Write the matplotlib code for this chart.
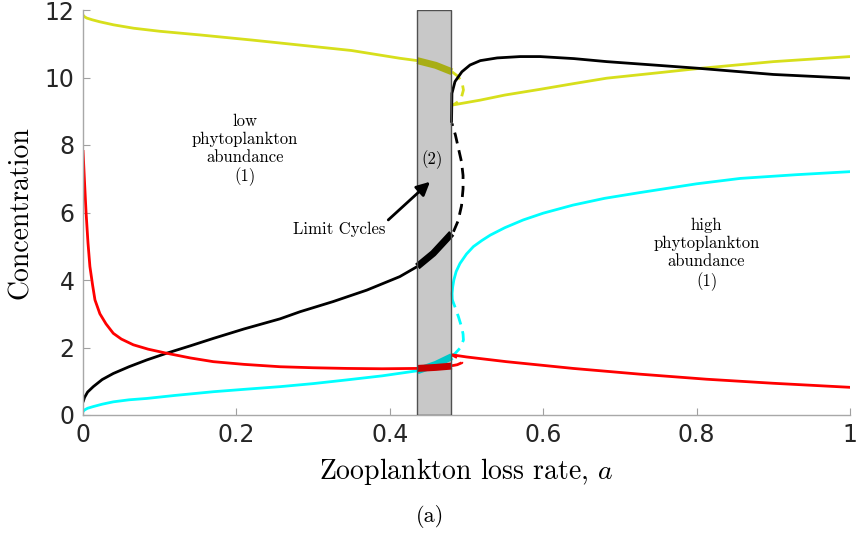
import matplotlib
matplotlib.use("Agg")
import matplotlib.pyplot as plt
from matplotlib.patches import Rectangle

plt.rcParams['mathtext.fontset'] = 'cm'

# ---- data (a = zooplankton loss rate, c = concentration) ----
yellow_low_a = [0, 0.002, 0.005, 0.012, 0.022, 0.04, 0.066, 0.1, 0.153, 0.22, 0.283, 0.35, 0.413, 0.4359]
yellow_low_c = [11.85, 11.8, 11.76, 11.71, 11.65, 11.56, 11.46, 11.37, 11.26, 11.11, 10.96, 10.8, 10.57, 10.5]
yellow_lc_a = [0.4359, 0.46, 0.481]
yellow_lc_c = [10.5, 10.36, 10.17]
yellow_un_a = [0.481, 0.488, 0.494, 0.496, 0.4935, 0.489, 0.483]
yellow_un_c = [10.17, 10.05, 9.88, 9.63, 9.42, 9.28, 9.19]
yellow_hi_a = [0.483, 0.518, 0.55, 0.596, 0.64, 0.683, 0.75, 0.804, 0.9, 1.0]
yellow_hi_c = [9.19, 9.33, 9.48, 9.65, 9.82, 9.98, 10.14, 10.27, 10.47, 10.62]

black_low_a = [0, 0.002, 0.006, 0.0134, 0.025, 0.0395, 0.06, 0.083, 0.109, 0.14, 0.17, 0.21,
               0.257, 0.283, 0.326, 0.37, 0.413, 0.4359]
black_low_c = [0.38, 0.52, 0.68, 0.84, 1.05, 1.23, 1.43, 1.63, 1.83, 2.05, 2.27, 2.55,
               2.85, 3.06, 3.36, 3.70, 4.10, 4.40]
black_lc_a = [0.4359, 0.4567, 0.4807]
black_lc_c = [4.40, 4.79, 5.38]
black_un_a = [0.483, 0.489, 0.4935, 0.4955, 0.4955, 0.4935, 0.4895, 0.4855, 0.481]
black_un_c = [5.43, 5.75, 6.2, 6.7, 7.1, 7.5, 7.9, 8.3, 8.64]
black_hi_a = [0.4805, 0.4807, 0.481, 0.485, 0.494, 0.5046, 0.518, 0.54, 0.57, 0.596, 0.64,
              0.683, 0.75, 0.804, 0.9, 1.0]
black_hi_c = [8.7, 9.0, 9.53, 9.88, 10.17, 10.37, 10.5, 10.58, 10.62, 10.62, 10.56,
              10.47, 10.36, 10.27, 10.09, 9.98]

cyan_low_a = [0, 0.002, 0.006, 0.0134, 0.025, 0.0395, 0.06, 0.083, 0.12, 0.17, 0.21, 0.257,
              0.3, 0.344, 0.39, 0.4359]
cyan_low_c = [0.1, 0.15, 0.2, 0.25, 0.32, 0.39, 0.45, 0.49, 0.58, 0.69, 0.76, 0.84,
              0.93, 1.04, 1.16, 1.31]
cyan_lc_a = [0.4359, 0.46, 0.481]
cyan_lc_c = [1.31, 1.5, 1.73]
cyan_un_a = [0.4807, 0.485, 0.4915, 0.496, 0.4955, 0.4937, 0.4895, 0.485, 0.4815]
cyan_un_c = [1.75, 1.82, 1.98, 2.22, 2.4, 2.6, 2.91, 3.2, 3.41]
cyan_hi_a = [0.4815, 0.4812, 0.482, 0.4835, 0.4865, 0.4915, 0.5, 0.509, 0.52, 0.531, 0.55,
             0.574, 0.6, 0.639, 0.68, 0.726, 0.8, 0.857, 0.93, 1.0]
cyan_hi_c = [3.41, 3.6, 3.8, 4.0, 4.25, 4.49, 4.77, 4.99, 5.17, 5.33, 5.55,
             5.78, 5.98, 6.22, 6.42, 6.59, 6.85, 7.01, 7.12, 7.21]

red_low_a = [0, 0.002, 0.004, 0.0065, 0.009, 0.0125, 0.0156, 0.022, 0.03, 0.0395, 0.05,
             0.0656, 0.085, 0.109, 0.14, 0.17, 0.21, 0.257, 0.3, 0.344, 0.39, 0.4359]
red_low_c = [7.85, 6.9, 6.0, 5.1, 4.4, 3.85, 3.41, 3.0, 2.7, 2.42, 2.25,
             2.08, 1.95, 1.83, 1.69, 1.58, 1.5, 1.43, 1.4, 1.38, 1.37, 1.38]
red_lc_a = [0.4359, 0.46, 0.481]
red_lc_c = [1.38, 1.41, 1.45]
red_un_a = [0.481, 0.488, 0.494, 0.493, 0.488, 0.482]
red_un_c = [1.46, 1.49, 1.55, 1.63, 1.7, 1.77]
red_hi_a = [0.482, 0.5, 0.552, 0.6, 0.639, 0.726, 0.813, 0.9, 1.0]
red_hi_c = [1.78, 1.72, 1.58, 1.47, 1.38, 1.21, 1.06, 0.94, 0.82]

box_a = [0.4359, 0.4802]
xticks = [0, 0.2, 0.4, 0.6, 0.8, 1]
xtick_labels = ['0', '0.2', '0.4', '0.6', '0.8', '1']
yticks = [0, 2, 4, 6, 8, 10, 12]
ytick_labels = ['0', '2', '4', '6', '8', '10', '12']

YEL = '#d7df1c'
CYA = '#00ffff'
RED = '#ff0000'
BLK = '#000000'

fig = plt.figure(figsize=(8.59, 5.38), dpi=100)
ax = fig.add_axes([83/859, 123/538, 767/859, 405/538])

lw = 2.0
tlw = 5.0
dash = (0, (4, 2.5))

for col, lo, lc, un, hi in [
    (YEL, (yellow_low_a, yellow_low_c), (yellow_lc_a, yellow_lc_c), (yellow_un_a, yellow_un_c), (yellow_hi_a, yellow_hi_c)),
    (CYA, (cyan_low_a, cyan_low_c), (cyan_lc_a, cyan_lc_c), (cyan_un_a, cyan_un_c), (cyan_hi_a, cyan_hi_c)),
    (BLK, (black_low_a, black_low_c), (black_lc_a, black_lc_c), (black_un_a, black_un_c), (black_hi_a, black_hi_c)),
    (RED, (red_low_a, red_low_c), (red_lc_a, red_lc_c), (red_un_a, red_un_c), (red_hi_a, red_hi_c)),
]:
    ax.plot(*lo, color=col, lw=lw, solid_capstyle='butt', solid_joinstyle='round')
    ax.plot(*lc, color=col, lw=tlw, solid_capstyle='butt', solid_joinstyle='round')
    ax.plot(*un, color=col, lw=lw, linestyle=dash)
    ax.plot(*hi, color=col, lw=lw, solid_joinstyle='round')

ax.add_patch(Rectangle((box_a[0], 0), box_a[1] - box_a[0], 12,
                       facecolor=(0, 0, 0, 0.216), edgecolor='#505050', lw=1.0, zorder=5))

serif = 'cmr10'
ax.text(0.211, 7.85, 'low\nphytoplankton\nabundance\n(1)', ha='center', va='center',
        fontsize=12, family=serif, linespacing=1.2)
ax.text(0.813, 4.76, 'high\nphytoplankton\nabundance\n(1)', ha='center', va='center',
        fontsize=12, family=serif, linespacing=1.2)
ax.text(0.4545, 7.56, '(2)', ha='center', va='center', fontsize=12, family=serif, zorder=6)
ax.text(0.334, 5.51, 'Limit Cycles', ha='center', va='center', fontsize=12, family=serif)
ax.annotate('', xy=(0.4524, 6.91), xytext=(0.398, 5.78),
            arrowprops=dict(arrowstyle='-|>', color='black', lw=2, mutation_scale=20,
                            shrinkA=0, shrinkB=0), zorder=7)

ax.set_xlim(0, 1)
ax.set_ylim(0, 12)
ax.set_xticks(xticks)
ax.set_xticklabels(xtick_labels)
ax.set_yticks(yticks)
ax.set_yticklabels(ytick_labels)
ax.tick_params(direction='in', length=5, width=0.8, color='#a0a0a0',
               labelsize=17, labelcolor='#262626', pad=6)
for s in ['top', 'right']:
    ax.spines[s].set_visible(False)
for s in ['left', 'bottom']:
    ax.spines[s].set_color('#a8a8a8')
    ax.spines[s].set_linewidth(1.0)

ax.set_xlabel('Zooplankton loss rate, $a$', fontsize=20, family=serif, labelpad=6)
ax.set_ylabel('Concentration', fontsize=20, family=serif, labelpad=8)
fig.text(430/859, 1 - 516/538, '(a)', ha='center', va='center', fontsize=16, family=serif)

fig.savefig('out.png', dpi=100)
